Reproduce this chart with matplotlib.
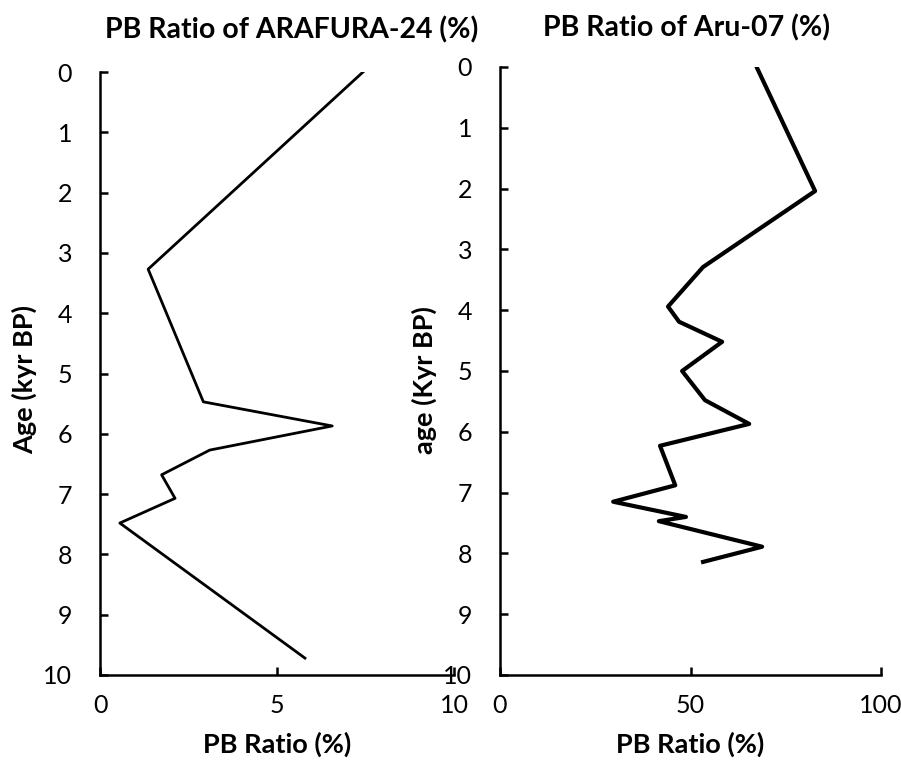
import matplotlib
matplotlib.use("Agg")
import matplotlib.pyplot as plt

plt.rcParams["font.family"] = ["Lato", "DejaVu Sans"]

# ARAFURA-24: PB ratio (%) against age (kyr BP)
ara_age = [0.0, 3.27, 5.47, 5.87, 6.27, 6.68, 7.07, 7.48, 9.72]
ara_pb = [7.43, 1.36, 2.92, 6.56, 3.10, 1.74, 2.12, 0.56, 5.79]

# Aru-07: PB ratio (%) against age (kyr BP)
aru_age = [0.02, 2.04, 3.29, 3.94, 4.19, 4.52, 5.00, 5.48, 5.87, 6.23,
           6.88, 7.15, 7.40, 7.47, 7.89, 8.14]
aru_pb = [67.5, 82.7, 53.3, 44.1, 47.0, 58.3, 47.8, 53.8, 65.4, 42.0,
          46.0, 29.7, 48.8, 41.7, 68.8, 53.3]

W, H = 901, 762
fig = plt.figure(figsize=(W / 100, H / 100), dpi=100)
ax1 = fig.add_axes([100 / W, 1 - 675 / H, 354 / W, 603 / H])
ax2 = fig.add_axes([500 / W, 1 - 675 / H, 381 / W, 608 / H])


def style(ax, xmax, xticks):
    ax.set_ylim(10, 0)
    ax.set_xlim(0, xmax)
    ax.set_yticks(range(11))
    ax.set_xticks(xticks)
    for s in ["top", "right"]:
        ax.spines[s].set_visible(False)
    for s in ["left", "bottom"]:
        ax.spines[s].set_linewidth(1.8)
    ax.tick_params(axis="y", direction="in", length=6, width=1.8,
                   labelsize=18, pad=20)
    ax.tick_params(axis="x", direction="in", length=6, width=1.8,
                   labelsize=18, pad=14)
    ax.patch.set_alpha(0)


ax1.plot(ara_pb, ara_age, color="black", linewidth=2)
style(ax1, 10, [0, 5, 10])
ax1.set_title("PB Ratio of ARAFURA-24 (%)", fontsize=20.5, fontweight="bold",
              pad=24, x=0.54)
ax1.set_xlabel("PB Ratio (%)", fontsize=19.5, fontweight="bold", labelpad=10)
ax1.set_ylabel("Age (kyr BP)", fontsize=19.5, fontweight="bold")
ax1.yaxis.set_label_coords(-0.178, 0.49)

ax2.plot(aru_pb, aru_age, color="black", linewidth=3)
style(ax2, 100, [0, 50, 100])
ax2.set_title("PB Ratio of Aru-07 (%)", fontsize=20.5, fontweight="bold",
              pad=22, x=0.49)
ax2.set_xlabel("PB Ratio (%)", fontsize=19.5, fontweight="bold", labelpad=10)
ax2.set_ylabel("age (Kyr BP)", fontsize=19.5, fontweight="bold")
ax2.yaxis.set_label_coords(-0.165, 0.485)

fig.savefig("out.png", dpi=100)
